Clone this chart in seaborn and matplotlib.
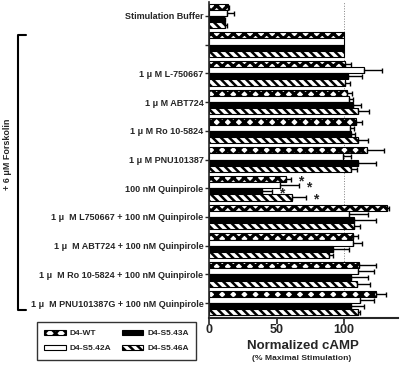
import pandas as pd
import matplotlib
matplotlib.use("Agg")
import matplotlib.pyplot as plt
import seaborn as sns
import numpy as np

# conditions (top to bottom), "" = forskolin alone
conditions = ["Stimulation Buffer", "", "1 \u03bc M L-750667", "1 \u03bc M ABT724",
              "1 \u03bc M Ro 10-5824", "1 \u03bc M PNU101387", "100 nM Quinpirole",
              "1 \u03bc  M L750667 + 100 nM Quinpirole",
              "1 \u03bc  M ABT724 + 100 nM Quinpirole",
              "1 \u03bc  M Ro 10-5824 + 100 nM Quinpirole",
              "1 \u03bc  M PNU101387G + 100 nM Quinpirole"]
receptors = ["D4-WT", "D4-S5.42A", "D4-S5.43A", "D4-S5.46A"]

wt_mean = [14, 100, 101, 102, 109, 117, 57, 132, 107, 111, 124]
wt_sem = [1, 0, 4.5, 4, 4, 13, 4, 1, 3, 12.5, 7]
s542_mean = [13, 100, 115, 104, 104.5, 99.5, 52.5, 104, 107, 110, 112]
s542_sem = [5.5, 0, 13, 3, 3, 6, 14, 13.5, 6, 12, 10]
s543_mean = [11, 100, 103, 107, 105.5, 110.5, 39, 107.5, 92, 105, 105]
s543_sem = [1, 0, 10, 5.5, 3, 13, 8, 16, 12, 13, 10]
s546_mean = [12, 100, 100.5, 110.5, 110, 105.5, 61.5, 107.5, 89, 109.5, 110]
s546_sem = [1, 0, 4, 8, 7.5, 4, 10.5, 4, 3, 9.5, 2]

means = [wt_mean, s542_mean, s543_mean, s546_mean]
sems = [wt_sem, s542_sem, s543_sem, s546_sem]
star_group = "100 nM Quinpirole"

rows = []
for r, m in zip(receptors, means):
    for c, v in zip(conditions, m):
        rows.append({"Condition": c, "Receptor": r, "cAMP": v})
df = pd.DataFrame(rows)

sns.set_style("ticks")
plt.rcParams["font.family"] = ["Liberation Sans", "DejaVu Sans"]
plt.rcParams["font.weight"] = "bold"
plt.rcParams["hatch.linewidth"] = 1.8

fig = plt.figure(figsize=(4.0, 3.66), dpi=100)
ax = fig.add_axes([0.5225, 1 - 317.5 / 366, 0.4725, 316 / 366])

palette = ["white", "white", "black", "white"]
hatches = ["xxx", "", "", "\\\\\\\\"]

sns.barplot(data=df, y="Condition", x="cAMP", hue="Receptor", order=conditions,
            hue_order=receptors, palette=palette, errorbar=None, orient="h",
            width=0.86, edgecolor="black", linewidth=0.8, ax=ax, legend=False)

bar_containers = list(ax.containers)
for i, cont in enumerate(bar_containers):
    for bar in cont:
        bar.set_hatch(hatches[i])
        bar.set_edgecolor("black")
        bar.set_zorder(2)
        if i == 0 and hasattr(bar, "set_hatch_linewidth"):
            bar.set_hatch_linewidth(2.4)

# error bars (upper side only) and significance stars
for i, cont in enumerate(bar_containers):
    for j, bar in enumerate(cont):
        err = sems[i][j]
        yc = bar.get_y() + bar.get_height() / 2
        xv = bar.get_width()
        if err > 0:
            ax.errorbar(xv, yc, xerr=[[0], [err]], fmt="none", ecolor="black",
                        elinewidth=1.0, capsize=1.8, capthick=1.0, zorder=3)
        if conditions[j] == star_group:
            ax.text(xv + err + 5, yc + 0.08, "*", fontsize=10, fontweight="bold",
                    ha="left", va="center")

ax.axvline(100, color="0.5", linestyle=":", linewidth=0.7, zorder=0)

ax.set_xlim(0, 140)
ax.set_ylim(len(conditions) - 0.5, -0.5)
ax.set_xticks([0, 50, 100])
ax.set_xticklabels(["0", "50", "100"], fontsize=9, fontweight="bold")
ax.set_yticks(range(len(conditions)))
ax.set_yticklabels(conditions, fontsize=6.5, fontweight="bold")
ax.tick_params(axis="x", length=4, width=1.2, pad=0.5)
ax.tick_params(axis="y", length=3, width=1.0, pad=1)
ax.set_xlabel("")
ax.set_ylabel("")
sns.despine(ax=ax)
ax.spines["left"].set_linewidth(1.2)
ax.spines["bottom"].set_linewidth(1.5)

fig.text(303 / 400, 1 - 346 / 366, "Normalized cAMP", fontsize=9.5, fontweight="bold",
         ha="center", va="center")
fig.text(302 / 400, 1 - 359 / 366, "(% Maximal Stimulation)", fontsize=6.1,
         fontweight="bold", ha="center", va="center")

# forskolin bracket
fig.add_artist(plt.Line2D([26 / 400, 18 / 400, 18 / 400, 26 / 400],
                          [1 - 35 / 366, 1 - 35 / 366, 1 - 310 / 366, 1 - 310 / 366],
                          color="black", linewidth=1.5))
fig.text(8 / 400, 1 - 154 / 366, "+ 6 \u03bcM Forskolin", rotation=90, fontsize=6.5,
         fontweight="bold", ha="center", va="center")

leg = fig.legend(bar_containers, receptors, ncol=2, loc="center",
                 bbox_to_anchor=(116.5 / 400, 1 - 341 / 366), fontsize=6,
                 frameon=True, fancybox=False, edgecolor="black",
                 handlelength=2.6, handleheight=0.6, columnspacing=1.2,
                 borderpad=0.9, labelspacing=0.9, handletextpad=0.5)
leg.get_frame().set_linewidth(1.0)

fig.savefig("out.png", dpi=100)
